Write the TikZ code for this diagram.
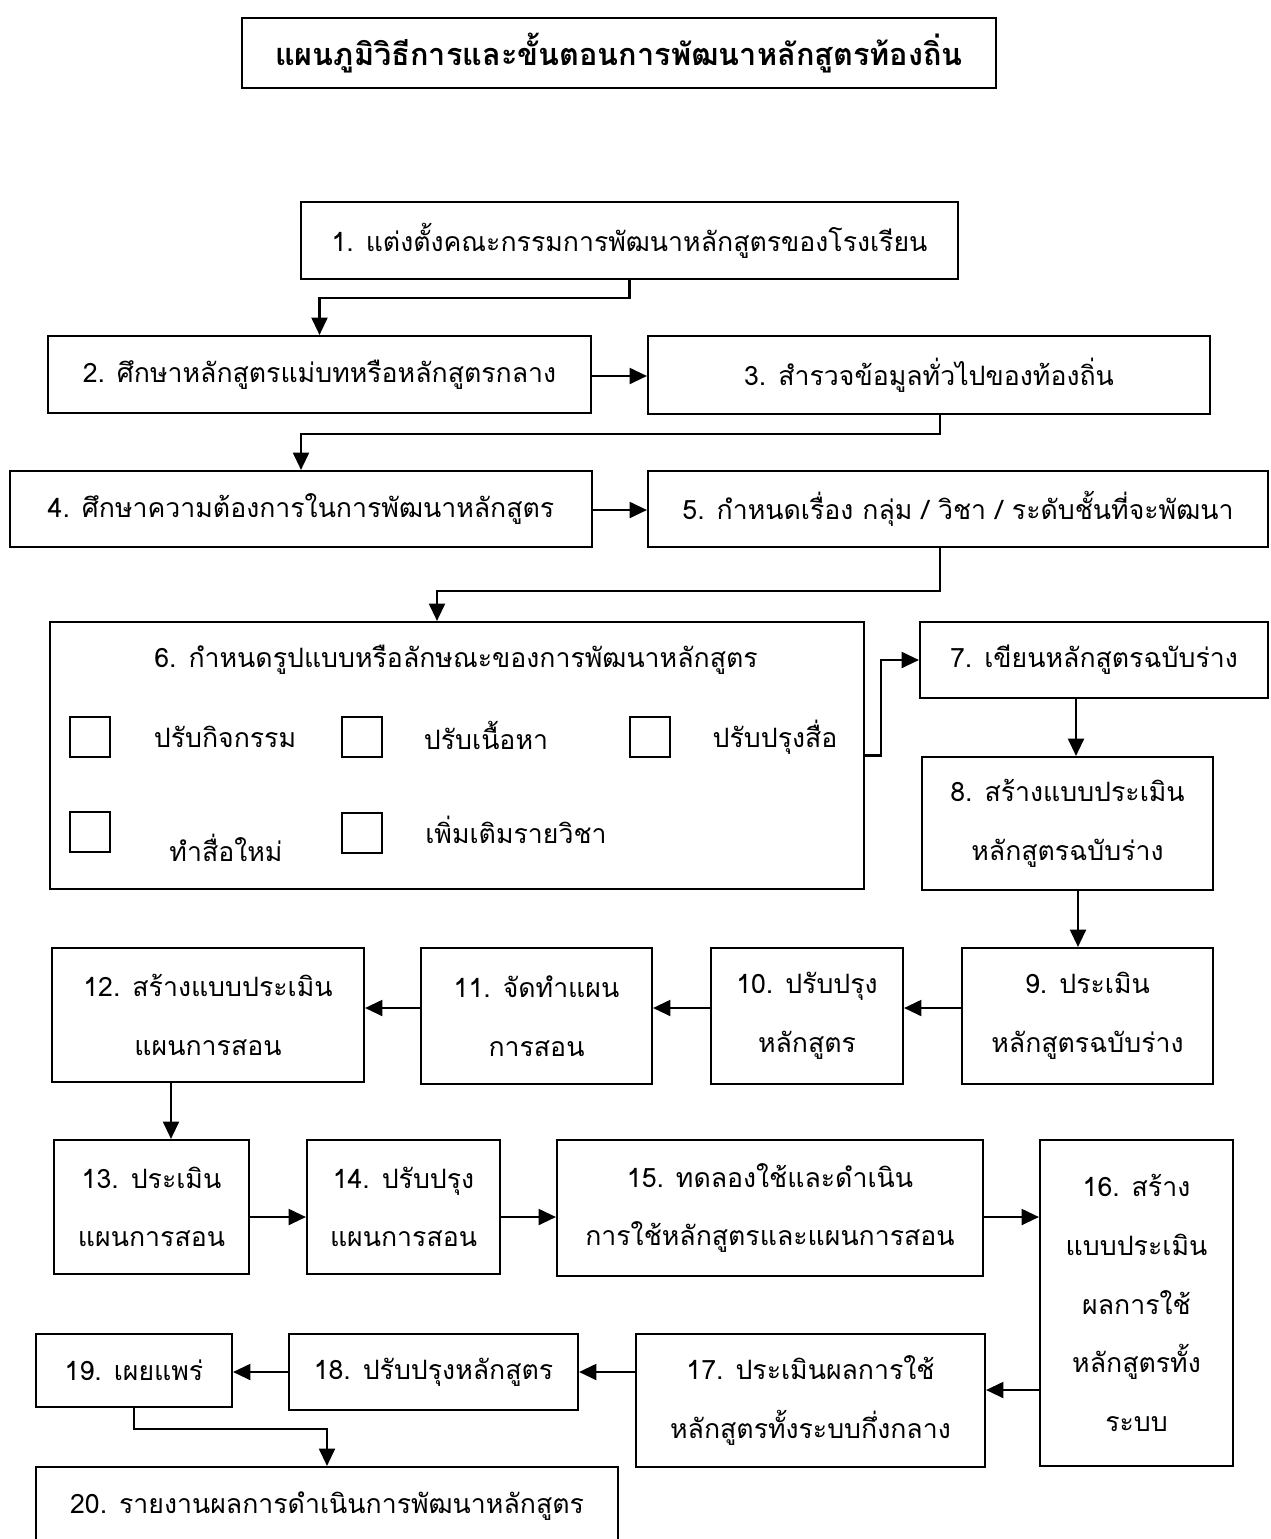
\documentclass[tikz,border=0pt]{standalone}
\usepackage{fontspec}
\setmainfont[Script=Thai]{Loma}
\usetikzlibrary{arrows.meta,calc}
\newcommand\bx[6]{\node[box,minimum width={(#4-#2)*0.75pt},minimum height={(#5-#3)*0.75pt}] (#1) at ({(#2+#4)/2},{(#3+#5)/2}) {#6};}
\begin{document}
\begin{tikzpicture}[x=0.75pt,y=-0.75pt,
  box/.style={draw,line width=1.6pt,align=center,inner sep=0pt,font=\fontsize{20}{44}\selectfont},
  arr/.style={line width=1.6pt,-{Triangle[length=13pt,width=12pt]}},
  chk/.style={draw,line width=1.6pt,minimum size=30pt,inner sep=0pt},
  lbl/.style={font=\fontsize{20}{24}\selectfont,inner sep=0pt}]
\useasboundingbox (0,0) rectangle (1271,1539);
\clip (0,0) rectangle (1271,1539);
\fill[white] (0,0) rectangle (1271,1539);

% title
\node[box,font=\bfseries\fontsize{23}{28}\selectfont,minimum width={754*0.75pt},minimum height={70*0.75pt}] (title) at (619,53) {แผนภูมิวิธีการและขั้นตอนการพัฒนาหลักสูตรท้องถิ่น};

\bx{n1}{301}{202}{958}{279}{1. แต่งตั้งคณะกรรมการพัฒนาหลักสูตรของโรงเรียน}
\bx{n2}{48}{336}{591}{413}{2. ศึกษาหลักสูตรแม่บทหรือหลักสูตรกลาง}
\bx{n3}{648}{336}{1210}{414}{3. สำรวจข้อมูลทั่วไปของท้องถิ่น}
\bx{n4}{10}{471}{592}{547}{4. ศึกษาความต้องการในการพัฒนาหลักสูตร}
\bx{n5}{648}{471}{1268}{547}{5. กำหนดเรื่อง กลุ่ม / วิชา / ระดับชั้นที่จะพัฒนา}
\bx{n6}{50}{622}{864}{889}{}
\bx{n7}{920}{622}{1268}{698}{7. เขียนหลักสูตรฉบับร่าง}
\bx{n8}{922}{757}{1213}{890}{8. สร้างแบบประเมิน\\หลักสูตรฉบับร่าง}
\bx{n9}{962}{948}{1213}{1084}{9. ประเมิน\\หลักสูตรฉบับร่าง}
\bx{n10}{711}{948}{903}{1084}{10. ปรับปรุง\\หลักสูตร}
\bx{n11}{421}{948}{652}{1084}{11. จัดทำแผน\\การสอน}
\bx{n12}{52}{948}{364}{1082}{12. สร้างแบบประเมิน\\แผนการสอน}
\bx{n13}{54}{1140}{249}{1274}{13. ประเมิน\\แผนการสอน}
\bx{n14}{307}{1140}{500}{1274}{14. ปรับปรุง\\แผนการสอน}
\bx{n15}{557}{1140}{983}{1276}{15. ทดลองใช้และดำเนิน\\การใช้หลักสูตรและแผนการสอน}
\bx{n16}{1040}{1140}{1233}{1466}{16. สร้าง\\แบบประเมิน\\ผลการใช้\\หลักสูตรทั้ง\\ระบบ}
\bx{n17}{636}{1334}{985}{1467}{17. ประเมินผลการใช้\\หลักสูตรทั้งระบบกึ่งกลาง}
\bx{n18}{289}{1334}{578}{1410}{18. ปรับปรุงหลักสูตร}
\bx{n19}{36}{1334}{232}{1407}{19. เผยแพร่}
\bx{n20}{36}{1467}{618}{1545}{20. รายงานผลการดำเนินการพัฒนาหลักสูตร}

% contents of box 6
\node[lbl] (h6) at (456,660) {6. กำหนดรูปแบบหรือลักษณะของการพัฒนาหลักสูตร};
\node[chk] (c1) at (90,737) {};
\node[chk] (c2) at (362,737) {};
\node[chk] (c3) at (650,737) {};
\node[chk] (c4) at (90,832) {};
\node[chk] (c5) at (362,833) {};
\node[lbl] (t1) at (225,737) {ปรับกิจกรรม};
\node[lbl] (t2) at (486,735) {ปรับเนื้อหา};
\node[lbl] (t3) at (775,737) {ปรับปรุงสื่อ};
\node[lbl] (t4) at (226,848) {ทำสื่อใหม่};
\node[lbl] (t5) at (516,830) {เพิ่มเติมรายวิชา};

% helper levels
\coordinate (y2) at (0,376);
\coordinate (y4) at (0,510);
\coordinate (y9) at (0,1008);
\coordinate (y13) at (0,1217);
\coordinate (y16) at (0,1390);
\coordinate (y17) at (0,1372);
\coordinate (x3) at (940,0);
\coordinate (x5) at (940,0);
\coordinate (x6) at (437,0);
\coordinate (x7) at (1076,0);
\coordinate (x8) at (1078,0);
\coordinate (x12) at (171,0);

% connectors
\draw[arr] (n1.south) -- ++(0,18) -| (n2.north);
\draw[arr] (n2.east |- y2) -- (n3.west |- y2);
\draw[arr] (x3 |- n3.south) -- ++(0,19) -| (n4.north);
\draw[arr] (n4.east |- y4) -- (n5.west |- y4);
\draw[arr] (x5 |- n5.south) -- ++(0,43) -| (x6 |- n6.north);
\draw[arr] (n6.east) -- ++(16,0) |- (n7.west);
\draw[arr] (x7 |- n7.south) -- (x7 |- n8.north);
\draw[arr] (x8 |- n8.south) -- (x8 |- n9.north);
\draw[arr] (n9.west |- y9) -- (n10.east |- y9);
\draw[arr] (n10.west |- y9) -- (n11.east |- y9);
\draw[arr] (n11.west |- y9) -- (n12.east |- y9);
\draw[arr] (x12 |- n12.south) -- (x12 |- n13.north);
\draw[arr] (n13.east |- y13) -- (n14.west |- y13);
\draw[arr] (n14.east |- y13) -- (n15.west |- y13);
\draw[arr] (n15.east |- y13) -- (n16.west |- y13);
\draw[arr] (n16.west |- y16) -- (n17.east |- y16);
\draw[arr] (n17.west |- y17) -- (n18.east |- y17);
\draw[arr] (n18.west |- y17) -- (n19.east |- y17);
\draw[arr] (n19.south) -- ++(0,21) -| (n20.north);
\end{tikzpicture}
\end{document}
